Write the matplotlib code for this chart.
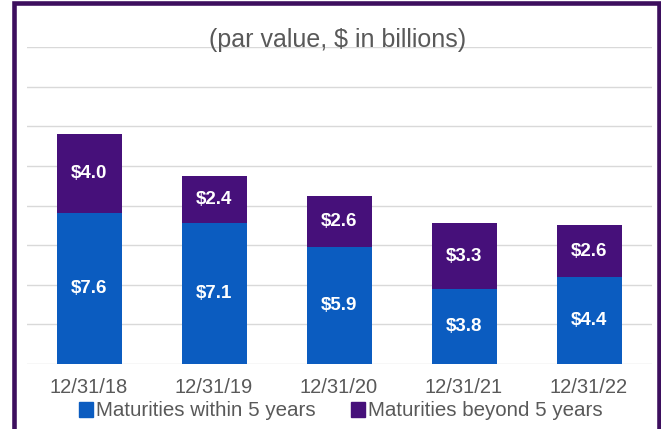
import matplotlib.pyplot as plt
from matplotlib.patches import Rectangle, Patch

plt.rcParams['font.family'] = ['Liberation Sans', 'DejaVu Sans']

dates = ['12/31/18', '12/31/19', '12/31/20', '12/31/21', '12/31/22']
within_5 = [7.6, 7.1, 5.9, 3.8, 4.4]
beyond_5 = [4.0, 2.4, 2.6, 3.3, 2.6]

blue = '#0b5cc0'
purple = '#46107a'
text_grey = '#595959'

W, H = 661, 429
fig = plt.figure(figsize=(W / 100, H / 100), dpi=100)
ax = fig.add_axes([26.5 / W, 65 / H, 625 / W, 317 / H])

x = range(len(dates))
ax.bar(x, within_5, width=0.52, color=blue, zorder=3)
ax.bar(x, beyond_5, width=0.52, bottom=within_5, color=purple, zorder=3)

# value labels in the middle of each segment
for i in x:
    ax.text(i, within_5[i] / 2, f'${within_5[i]:.1f}', ha='center', va='center',
            color='white', fontsize=13.5, fontweight='bold', zorder=4)
    ax.text(i, within_5[i] + beyond_5[i] / 2, f'${beyond_5[i]:.1f}', ha='center',
            va='center', color='white', fontsize=13.5, fontweight='bold', zorder=4)

ax.set_xlim(-0.5, 4.5)
ax.set_ylim(0, 16)
ax.set_yticks(range(0, 17, 2))
ax.yaxis.grid(True, color='#d9d9d9', linewidth=1, zorder=0)
ax.tick_params(axis='y', left=False, labelleft=False)
ax.tick_params(axis='x', length=0, pad=10, labelsize=14.5, labelcolor=text_grey)
ax.set_xticks(list(x))
ax.set_xticklabels(dates)
for s in ax.spines.values():
    s.set_visible(False)

fig.text(338 / W, 1 - 47 / H, '(par value, $ in billions)', ha='center', va='baseline',
         fontsize=18, color=text_grey)

handles = [Patch(color=blue, label='Maturities within 5 years'),
           Patch(color=purple, label='Maturities beyond 5 years')]
fig.legend(handles=handles, loc='center', bbox_to_anchor=(341 / W, 1 - 411 / H), ncol=2,
           frameon=False, fontsize=14.8, labelcolor=text_grey, handlelength=0.7,
           handleheight=0.7, handletextpad=0.15, columnspacing=1.7, borderpad=0)

# dark purple frame around the panel
fig.patches.append(Rectangle((14 / W, -0.1), 645 / W, 1.1 - 2.5 / H, transform=fig.transFigure,
                             fill=False, edgecolor='#3d0f5e', linewidth=3.3, figure=fig))

fig.savefig('out.png', dpi=100)
